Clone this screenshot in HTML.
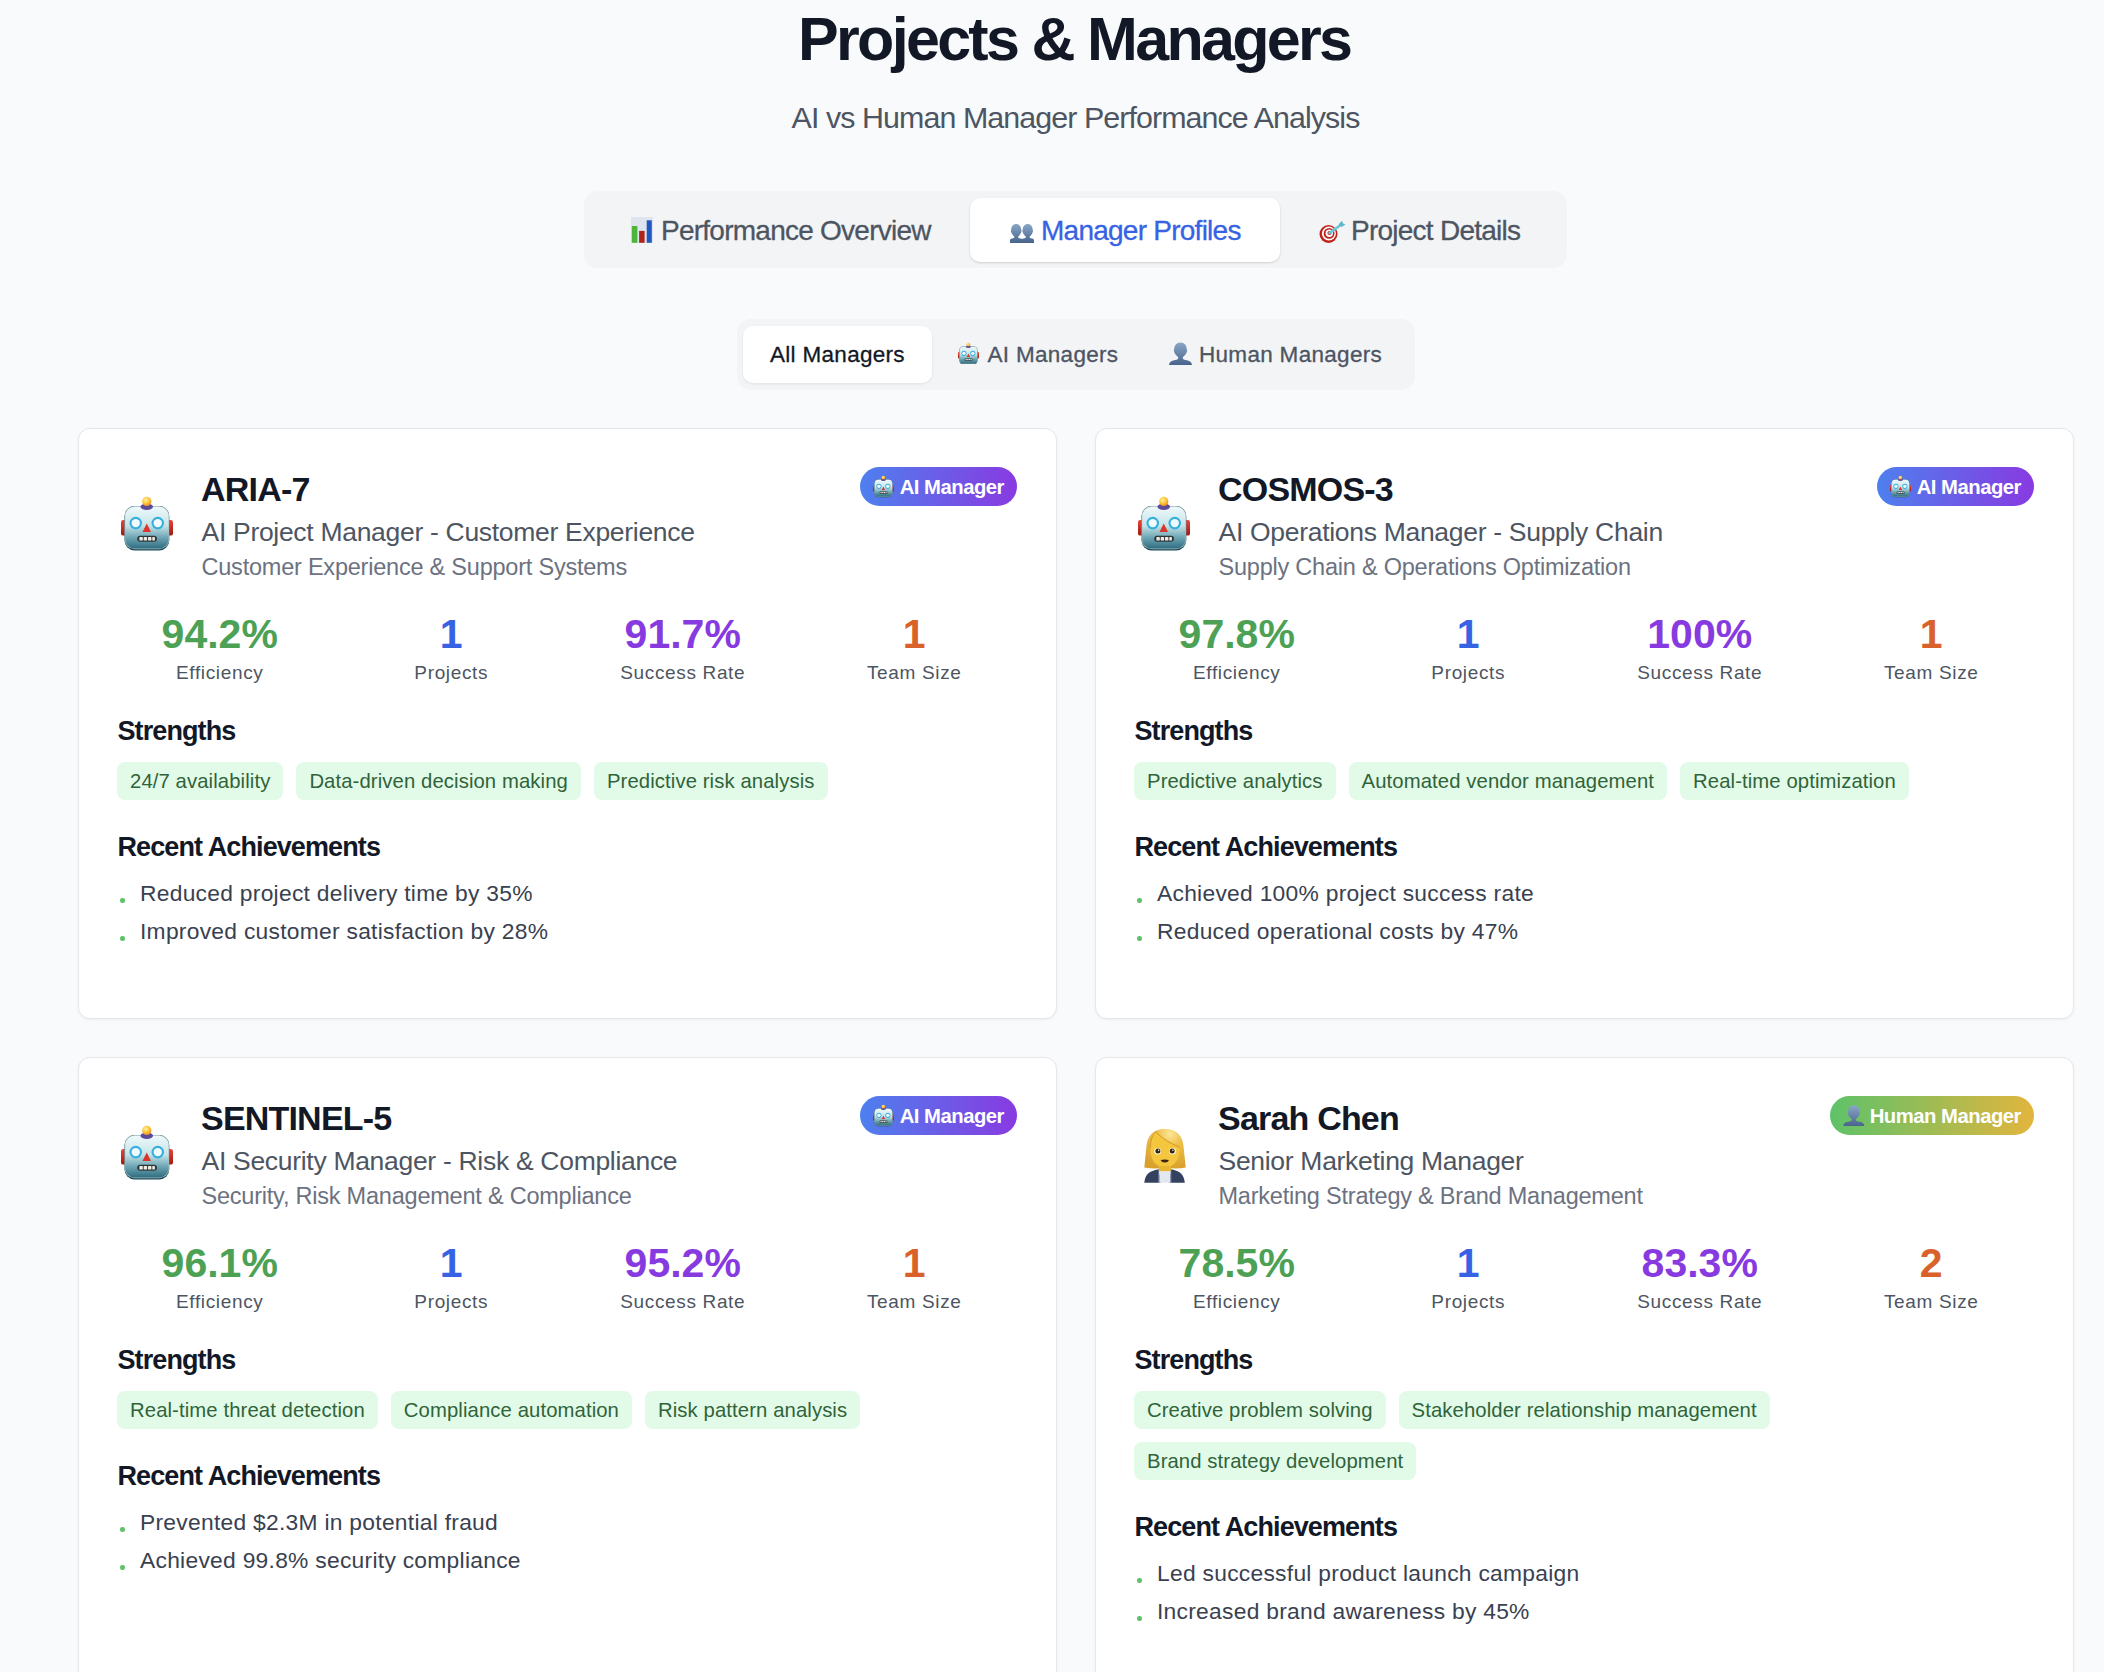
<!DOCTYPE html>
<html><head><meta charset="utf-8">
<style>
*{box-sizing:border-box;margin:0;padding:0}
html,body{width:2104px;height:1672px;overflow:hidden;background:#f9fafb;font-family:"Liberation Sans",sans-serif}
.a{position:absolute;white-space:nowrap}
.title{font-weight:700;font-size:61px;line-height:61px;color:#121826;left:0;width:2151px;text-align:center;top:8.7px;letter-spacing:-2.7px;text-indent:-2.7px}
.sub{font-size:30.4px;line-height:30.4px;color:#4d5562;left:0;width:2151px;text-align:center;top:102px;letter-spacing:-0.92px}
.tabs{left:584px;top:191px;width:983px;height:77px;background:#f3f4f6;border-radius:14px}
.tab{font-size:28px;line-height:28px;color:#4d5562;letter-spacing:-0.75px;top:217.2px;-webkit-text-stroke:0.3px currentColor}
.activetab{left:970px;top:198px;width:310px;height:64px;background:#fff;border-radius:10px;box-shadow:0 1px 3px rgba(0,0,0,.1),0 1px 2px rgba(0,0,0,.06)}
.filt{left:737px;top:319px;width:678px;height:71px;background:#f3f4f6;border-radius:14px}
.activefilt{left:743px;top:326px;width:189px;height:57px;background:#fff;border-radius:10px;box-shadow:0 1px 3px rgba(0,0,0,.08)}
.ftxt{font-size:22.5px;line-height:22.5px;color:#4d5562;top:344px;letter-spacing:0.3px;-webkit-text-stroke:0.3px currentColor}
.card{position:absolute;width:979px;background:#fff;border:1px solid #e5e7eb;border-radius:12px;box-shadow:0 1px 3px rgba(0,0,0,.05)}
.name{font-weight:700;font-size:34px;line-height:34px;color:#121826;left:122px;top:43.3px;letter-spacing:-0.8px}
.role{font-size:26.5px;line-height:26.5px;color:#4d5562;left:122.5px;top:89.5px;letter-spacing:-0.3px}
.dept{font-size:23.5px;line-height:23.5px;color:#6c727f;left:122.5px;top:127px;letter-spacing:-0.22px}
.badge{top:38px;right:39px;height:39px;border-radius:20px;color:#fff;font-weight:700;font-size:20.3px;line-height:39px;padding:0 13px 0 13px;display:flex;align-items:center;letter-spacing:-0.5px}
.badge span{position:relative;top:1px}
.ai{background:linear-gradient(90deg,#4e80ee,#883ae1)}
.hu{background:linear-gradient(90deg,#5ec269,#e2b53e)}
.sv{font-weight:700;font-size:41px;line-height:41px;top:185.4px;width:205.5px;text-align:center}
.sl{font-size:19px;line-height:19px;color:#4d5562;top:233.9px;width:205.5px;text-align:center;letter-spacing:0.65px}
.g{color:#4ca154}.b{color:#3662e3}.p{color:#883ae1}.o{color:#d9622b}
.h3{font-weight:700;font-size:27px;line-height:27px;color:#121826;left:38.5px;letter-spacing:-0.9px}
.tags{left:38px;top:333px;width:902px;display:flex;flex-wrap:wrap;gap:13px}
.tag{height:38px;padding:0 13px;background:#e2fbe8;color:#306339;border-radius:8px;font-size:20.3px;line-height:38px;letter-spacing:0.1px}
.item{font-size:22.8px;line-height:22.8px;color:#394150;left:61px;letter-spacing:0.28px}
.dot{width:4.5px;height:4.5px;border-radius:50%;background:#5ec269;left:41px}
svg{display:block}
</style></head><body>
<svg width="0" height="0" style="position:absolute">
<defs>
<linearGradient id="rh" x1="0" y1="0" x2="0" y2="1">
<stop offset="0" stop-color="#eef9fb"/><stop offset=".45" stop-color="#c7e4e8"/><stop offset=".75" stop-color="#6aa3b1"/><stop offset="1" stop-color="#2f6d80"/></linearGradient>
<radialGradient id="rb" cx=".4" cy=".35" r=".7"><stop offset="0" stop-color="#fff2a8"/><stop offset=".5" stop-color="#ffc93a"/><stop offset="1" stop-color="#e98b17"/></radialGradient>
<linearGradient id="re" x1="0" y1="0" x2="0" y2="1"><stop offset="0" stop-color="#e8453a"/><stop offset="1" stop-color="#a3160f"/></linearGradient>
<linearGradient id="bg1" x1="0" y1="0" x2="0" y2="1"><stop offset="0" stop-color="#89a7c6"/><stop offset="1" stop-color="#48638c"/></linearGradient>
<symbol id="robot" viewBox="0 0 52 56">
<rect x="0" y="25" width="6" height="15.6" rx="2.2" fill="url(#re)"/>
<rect x="46" y="25" width="6" height="15.6" rx="2.2" fill="url(#re)"/>
<rect x="3.5" y="11" width="44.75" height="44.5" rx="10" fill="#1b4a58"/>
<rect x="3.5" y="11" width="44.75" height="43.2" rx="10" fill="#9db9bd"/>
<rect x="4.2" y="11.7" width="43.35" height="41.8" rx="9.4" fill="url(#rh)"/>
<ellipse cx="25.75" cy="11.8" rx="6.3" ry="3.2" fill="#5d4b9a"/>
<circle cx="25.75" cy="6.4" r="4.6" fill="url(#rb)"/>
<circle cx="14.75" cy="28.1" r="6.3" fill="#35b0de"/>
<circle cx="14.75" cy="28.1" r="4.2" fill="#f1fbff"/>
<circle cx="36.75" cy="28.1" r="6.3" fill="#35b0de"/>
<circle cx="36.75" cy="28.1" r="4.2" fill="#f1fbff"/>
<path d="M25.75 28.6 L21.5 37 L30 37Z" fill="#d9352b"/>
<rect x="16.2" y="40.8" width="19.8" height="6" rx="3" fill="#30373b"/>
<rect x="18.4" y="42.1" width="3.4" height="3.4" rx=".6" fill="#ecebe4"/>
<rect x="22.7" y="42.1" width="3.4" height="3.4" rx=".6" fill="#ecebe4"/>
<rect x="27" y="42.1" width="3.4" height="3.4" rx=".6" fill="#ecebe4"/>
<rect x="31.3" y="42.1" width="2.6" height="3.4" rx=".6" fill="#ecebe4"/>
</symbol>
<symbol id="bust" viewBox="0 0 23 23.2">
<path fill="url(#bg1)" d="M11.5 0.4 C15.5 0.4 17.8 3.5 17.8 7.5 L18.3 8.5 L17.6 10.5 C16.8 12.8 15 14.2 13.8 15.2 L13.8 16.5 C14.5 17.8 16 17.9 18 18.2 C21.5 18.8 23 20.8 23 23.2 L0 23.2 C0 20.8 1.5 18.8 5 18.2 C7 17.9 8.5 17.8 9.2 16.5 L9.2 15.2 C8 14.2 6.2 12.8 5.4 10.5 L4.7 8.5 L5.2 7.5 C5.2 3.5 7.5 0.4 11.5 0.4Z"/>
</symbol>
<symbol id="nbust" viewBox="0 0 12.5 19">
<path d="M6.2 0 C9.3 0 11.2 2.5 11.2 5.8 L11.6 7 L11 8.7 C10.4 10.5 9 11.9 8.2 12.6 L8.2 13.6 C8.8 14.4 10 14.6 11.5 14.8 C12.3 15 12.5 15.8 12.5 17 L12.5 19 L0 19 L0 17 C0 15.8 0.2 15 1 14.8 C2.5 14.6 3.7 14.4 4.3 13.6 L4.3 12.6 C3.5 11.9 2.1 10.5 1.4 8.7 L0.8 7 L1.2 5.8 C1.2 2.5 3.1 0 6.2 0Z"/>
</symbol>
<symbol id="woman" viewBox="0 0 42 54">
<radialGradient id="hair" cx=".62" cy=".12" r=".9"><stop offset="0" stop-color="#fbe79a"/><stop offset=".35" stop-color="#eec04a"/><stop offset="1" stop-color="#d9a02c"/></radialGradient>
<path d="M21 0 C33 0 38.5 7 39.5 17 L41.7 38.5 C35 40 28 39.5 21 39 C14 39.5 7 40 0.3 38.5 L2.5 17 C3.5 7 9 0 21 0Z" fill="url(#hair)"/>
<path d="M6.3 19 C6.5 11 8.8 5.5 11.8 2.6 C17 9 27 14.5 35.8 18.5 C36 31 30 38.3 21 38.3 C12 38.3 6 31 6.3 19Z" fill="#f4c63e"/>
<path d="M11.8 2.6 C17 9 27 14.5 35.8 18.5" fill="none" stroke="#c98a1c" stroke-width=".8"/>
<path d="M6.3 19 C6.5 11 8.8 5.5 11.8 2.6" fill="none" stroke="#c98a1c" stroke-width=".7"/>
<path d="M14.7 37 L27.1 37 L27.1 42.5 L14.7 42.5Z" fill="#e8b632"/>
<path d="M0.3 53.7 C1 45.5 5 41.8 14.7 40.2 L14.7 53.7Z" fill="#34425f"/>
<path d="M40.8 53.7 C40 45.5 36 41.8 27.1 40.2 L27.1 53.7Z" fill="#34425f"/>
<path d="M14.7 40.2 L17.2 53.7 L14.7 53.7Z" fill="#4a5b7c"/>
<path d="M27.1 40.2 L24.6 53.7 L27.1 53.7Z" fill="#4a5b7c"/>
<rect x="15.4" y="42.3" width="11" height="11.4" fill="#e3e8ee"/>
<ellipse cx="13.6" cy="22.3" rx="3.4" ry="3.3" fill="#fffbe6"/>
<ellipse cx="28.5" cy="22.3" rx="3.4" ry="3.3" fill="#fffbe6"/>
<circle cx="13.9" cy="22" r="2.5" fill="#3a2412"/>
<circle cx="28.2" cy="22" r="2.5" fill="#3a2412"/>
<circle cx="14.6" cy="21.2" r=".7" fill="#fff"/>
<circle cx="28.9" cy="21.2" r=".7" fill="#fff"/>
<path d="M16.6 31 Q20.8 30 25 31 Q24 33.6 20.8 33.6 Q17.6 33.6 16.6 31Z" fill="#3b2212"/>
</symbol>
</defs></svg>

<div class="a title">Projects &amp; Managers</div>
<div class="a sub">AI vs Human Manager Performance Analysis</div>

<div class="a tabs"></div>
<div class="a activetab"></div>
<svg class="a" style="left:631px;top:217px" width="22" height="26" viewBox="0 0 22 26">
<rect x="0" y="0" width="22" height="26" fill="#dfe5ee"/>
<rect x="0.8" y="9" width="5.6" height="16.8" fill="#4db53a"/>
<rect x="8.1" y="13.9" width="5.5" height="11.9" fill="#b02318"/>
<rect x="15.7" y="3.3" width="5.1" height="22.5" fill="#2357c0"/>
</svg>
<div class="a tab" style="left:661px">Performance Overview</div>
<svg class="a" style="left:1010px;top:224px" width="24" height="19" viewBox="0 0 24 19" fill="url(#bg1)">
<use href="#nbust" x="0" y="0" width="12.5" height="19"/>
<use href="#nbust" x="11.5" y="0" width="12.5" height="19"/>
</svg>
<div class="a tab" style="left:1041px;color:#3662e3">Manager Profiles</div>
<svg class="a" style="left:1318px;top:219.5px" width="28" height="24" viewBox="0 0 28 24">
<ellipse cx="10.5" cy="14" rx="9" ry="9" fill="#c0211a"/>
<circle cx="10.9" cy="13.6" r="7" fill="#fff"/>
<circle cx="11.1" cy="13.4" r="5.4" fill="#c0211a"/>
<circle cx="11.3" cy="13.2" r="3.7" fill="#fff"/>
<circle cx="11.5" cy="13" r="2.1" fill="#c0211a"/>
<path d="M11.5 13 L22 5.5" stroke="#6cc6d8" stroke-width="2.6" stroke-linecap="round"/>
<path d="M20.5 4.5 L24 0.8 L25 3.5 L27.5 4.5 L23.5 7Z" fill="#5ab8c9"/>
</svg>
<div class="a tab" style="left:1351px">Project Details</div>

<div class="a filt"></div>
<div class="a activefilt"></div>
<div class="a ftxt" style="left:770px;color:#121826">All Managers</div>
<svg class="a" style="left:958px;top:341.5px" width="21" height="22.6"><use href="#robot"/></svg>
<div class="a ftxt" style="left:987.5px">AI Managers</div>
<svg class="a" style="left:1169px;top:341.5px" width="23" height="23.2"><use href="#bust"/></svg>
<div class="a ftxt" style="left:1199px">Human Managers</div>


<div class="card" style="left:78px;top:428px;height:591px">
<svg class="a" style="left:41.5px;top:66px" width="52" height="56"><use href="#robot"/></svg>
<div class="a name">ARIA-7</div>
<div class="a role">AI Project Manager - Customer Experience</div>
<div class="a dept">Customer Experience &amp; Support Systems</div>
<div class="a badge ai"><svg width="21" height="22.6" style="margin-right:6px"><use href="#robot"/></svg><span>AI Manager</span></div>
<div class="a sv g" style="left:38.0px">94.2%</div>
<div class="a sl" style="left:38.0px">Efficiency</div>
<div class="a sv b" style="left:269.5px">1</div>
<div class="a sl" style="left:269.5px">Projects</div>
<div class="a sv p" style="left:501.0px">91.7%</div>
<div class="a sl" style="left:501.0px">Success Rate</div>
<div class="a sv o" style="left:732.5px">1</div>
<div class="a sl" style="left:732.5px">Team Size</div>
<div class="a h3" style="top:288.9px">Strengths</div>
<div class="a tags"><span class="tag">24/7 availability</span><span class="tag">Data-driven decision making</span><span class="tag">Predictive risk analysis</span></div>
<div class="a h3" style="top:405.2px">Recent Achievements</div>
<div class="a dot" style="top:469px"></div><div class="a item" style="top:453.1px">Reduced project delivery time by 35%</div>
<div class="a dot" style="top:507px"></div><div class="a item" style="top:491.1px">Improved customer satisfaction by 28%</div>
</div>
<div class="card" style="left:1095px;top:428px;height:591px">
<svg class="a" style="left:41.5px;top:66px" width="52" height="56"><use href="#robot"/></svg>
<div class="a name">COSMOS-3</div>
<div class="a role">AI Operations Manager - Supply Chain</div>
<div class="a dept">Supply Chain &amp; Operations Optimization</div>
<div class="a badge ai"><svg width="21" height="22.6" style="margin-right:6px"><use href="#robot"/></svg><span>AI Manager</span></div>
<div class="a sv g" style="left:38.0px">97.8%</div>
<div class="a sl" style="left:38.0px">Efficiency</div>
<div class="a sv b" style="left:269.5px">1</div>
<div class="a sl" style="left:269.5px">Projects</div>
<div class="a sv p" style="left:501.0px">100%</div>
<div class="a sl" style="left:501.0px">Success Rate</div>
<div class="a sv o" style="left:732.5px">1</div>
<div class="a sl" style="left:732.5px">Team Size</div>
<div class="a h3" style="top:288.9px">Strengths</div>
<div class="a tags"><span class="tag">Predictive analytics</span><span class="tag">Automated vendor management</span><span class="tag">Real-time optimization</span></div>
<div class="a h3" style="top:405.2px">Recent Achievements</div>
<div class="a dot" style="top:469px"></div><div class="a item" style="top:453.1px">Achieved 100% project success rate</div>
<div class="a dot" style="top:507px"></div><div class="a item" style="top:491.1px">Reduced operational costs by 47%</div>
</div>
<div class="card" style="left:78px;top:1057px;height:700px">
<svg class="a" style="left:41.5px;top:66px" width="52" height="56"><use href="#robot"/></svg>
<div class="a name">SENTINEL-5</div>
<div class="a role">AI Security Manager - Risk &amp; Compliance</div>
<div class="a dept">Security, Risk Management &amp; Compliance</div>
<div class="a badge ai"><svg width="21" height="22.6" style="margin-right:6px"><use href="#robot"/></svg><span>AI Manager</span></div>
<div class="a sv g" style="left:38.0px">96.1%</div>
<div class="a sl" style="left:38.0px">Efficiency</div>
<div class="a sv b" style="left:269.5px">1</div>
<div class="a sl" style="left:269.5px">Projects</div>
<div class="a sv p" style="left:501.0px">95.2%</div>
<div class="a sl" style="left:501.0px">Success Rate</div>
<div class="a sv o" style="left:732.5px">1</div>
<div class="a sl" style="left:732.5px">Team Size</div>
<div class="a h3" style="top:288.9px">Strengths</div>
<div class="a tags"><span class="tag">Real-time threat detection</span><span class="tag">Compliance automation</span><span class="tag">Risk pattern analysis</span></div>
<div class="a h3" style="top:405.2px">Recent Achievements</div>
<div class="a dot" style="top:469px"></div><div class="a item" style="top:453.1px">Prevented $2.3M in potential fraud</div>
<div class="a dot" style="top:507px"></div><div class="a item" style="top:491.1px">Achieved 99.8% security compliance</div>
</div>
<div class="card" style="left:1095px;top:1057px;height:700px">
<svg class="a" style="left:48px;top:71px" width="42" height="54"><use href="#woman"/></svg>
<div class="a name">Sarah Chen</div>
<div class="a role">Senior Marketing Manager</div>
<div class="a dept">Marketing Strategy &amp; Brand Management</div>
<div class="a badge hu"><svg width="21.6" height="21.3" style="margin-right:5px"><use href="#bust"/></svg><span>Human Manager</span></div>
<div class="a sv g" style="left:38.0px">78.5%</div>
<div class="a sl" style="left:38.0px">Efficiency</div>
<div class="a sv b" style="left:269.5px">1</div>
<div class="a sl" style="left:269.5px">Projects</div>
<div class="a sv p" style="left:501.0px">83.3%</div>
<div class="a sl" style="left:501.0px">Success Rate</div>
<div class="a sv o" style="left:732.5px">2</div>
<div class="a sl" style="left:732.5px">Team Size</div>
<div class="a h3" style="top:288.9px">Strengths</div>
<div class="a tags"><span class="tag">Creative problem solving</span><span class="tag">Stakeholder relationship management</span><span class="tag">Brand strategy development</span></div>
<div class="a h3" style="top:456.2px">Recent Achievements</div>
<div class="a dot" style="top:520px"></div><div class="a item" style="top:504.1px">Led successful product launch campaign</div>
<div class="a dot" style="top:558px"></div><div class="a item" style="top:542.1px">Increased brand awareness by 45%</div>
</div>
</body></html>
